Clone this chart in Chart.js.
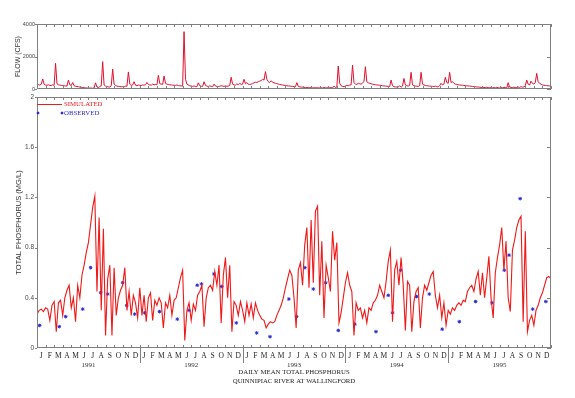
<!DOCTYPE html>
<html>
<head>
<meta charset="utf-8">
<script src="https://cdn.jsdelivr.net/npm/chart.js@4/dist/chart.umd.min.js"></script>
<style>
  html, body { margin: 0; padding: 0; background: #fff; }
  #wrap { position: relative; width: 575px; height: 398px; }
  #wrap canvas { position: absolute; left: 0; top: 0; }
</style>
</head>
<body>
<div id="wrap">
  <canvas id="flowChart" width="575" height="398"></canvas>
  <canvas id="phosChart" width="575" height="398"></canvas>
</div>
<script>
// month letters and years for the x axis
const months = ['J', 'F', 'M', 'A', 'M', 'J', 'J', 'A', 'S', 'O', 'N', 'D'];
const years = ['1991', '1992', '1993', '1994', '1995'];
const monthCount = 60;

// tick values
const flowTicks = [0, 2000, 4000];
const phosTicks = [0, 0.4, 0.8, 1.2, 1.6, 2];

// daily flow (CFS), 6 values per month
const flowPerMonth = 6;
const flow = [
  250, 270, 240, 300, 620, 280,   240, 230, 260, 220, 210, 250,
  230, 1580, 320, 260, 240, 220,  210, 200, 190, 180, 550, 260,
  220, 400, 200, 170, 150, 140,   120, 100, 90, 80, 70, 60,
  55, 50, 60, 45, 70, 380,        120, 90, 150, 200, 1680, 250,
  180, 150, 130, 120, 200, 1230,  300, 220, 180, 160, 150, 140,
  150, 130, 180, 160, 1050, 300,  220, 250, 450, 230, 200, 240,
  230, 210, 250, 240, 260, 400,   280, 250, 240, 300, 260, 280,
  260, 840, 330, 300, 280, 800,   350, 300, 280, 260, 250, 240,
  230, 220, 250, 210, 200, 190,   180, 3530, 600, 300, 250, 200,
  180, 160, 190, 150, 140, 380,   200, 170, 160, 450, 220, 180,
  150, 200, 160, 140, 300, 180,   160, 150, 170, 200, 180, 160,
  190, 170, 180, 220, 720, 300,   250, 240, 320, 260, 350, 280,
  300, 600, 320, 400, 290, 280,   300, 330, 380, 420, 400, 450,
  480, 520, 600, 550, 1070, 600,  450, 400, 500, 420, 380, 350,
  330, 300, 280, 260, 250, 230,   220, 200, 190, 180, 170, 160,
  150, 140, 390, 160, 130, 120,   110, 100, 95, 90, 85, 80,
  80, 75, 70, 80, 75, 70,         70, 80, 65, 90, 75, 70,
  80, 75, 85, 70, 180, 90,        120, 1415, 350, 200, 160, 150,
  180, 220, 200, 240, 260, 1475,  400, 300, 280, 350, 320, 300,
  380, 450, 1370, 450, 380, 350,  320, 300, 280, 260, 250, 240,
  230, 220, 200, 190, 180, 170,   160, 150, 550, 200, 140, 130,
  120, 130, 200, 110, 180, 650,   250, 200, 180, 220, 1025, 250,
  200, 180, 170, 160, 200, 1025,  300, 250, 220, 200, 190, 180,
  170, 160, 150, 180, 140, 130,   200, 350, 250, 300, 720, 400,
  350, 1025, 400, 450, 350, 300,  280, 260, 250, 240, 230, 220,
  210, 200, 190, 180, 170, 160,   150, 140, 130, 120, 110, 100,
  100, 95, 90, 110, 85, 80,       80, 75, 90, 70, 100, 75,
  70, 90, 75, 100, 80, 70,        390, 120, 100, 90, 110, 90,
  100, 120, 90, 150, 110, 130,    200, 550, 300, 250, 480, 350,
  300, 400, 960, 450, 350, 300,   250, 230, 220, 210, 200, 190,
  190
];

// simulated total phosphorus (mg/L), 4 values per month
const phosPerMonth = 4;
const simulated = [
  0.27, 0.30, 0.31, 0.29,  0.32, 0.31, 0.22, 0.34,  0.37, 0.13, 0.36, 0.38,
  0.26, 0.40, 0.46, 0.50,  0.32, 0.40, 0.21, 0.50,  0.40, 0.58, 0.66, 0.76,
  0.84, 0.98, 1.12, 1.21,  0.45, 1.04, 0.30, 0.95,  0.10, 0.55, 0.66, 0.10,
  0.64, 0.26, 0.40, 0.46,  0.50, 0.64, 0.30, 0.45,  0.26, 0.42, 0.36, 0.24,
  0.48, 0.26, 0.42, 0.21,  0.40, 0.44, 0.22, 0.38,  0.34, 0.40, 0.36, 0.16,
  0.36, 0.32, 0.42, 0.26,  0.38, 0.40, 0.48, 0.56,  0.62, 0.06, 0.30, 0.36,
  0.22, 0.35, 0.30, 0.42,  0.45, 0.50, 0.17, 0.40,  0.48, 0.50, 0.46, 0.61,
  0.50, 0.66, 0.20, 0.58,  0.72, 0.40, 0.66, 0.13,  0.37, 0.34, 0.26, 0.37,
  0.30, 0.21, 0.36, 0.26,  0.35, 0.24, 0.36, 0.30,  0.26, 0.23, 0.22, 0.16,
  0.19, 0.21, 0.20, 0.21,  0.26, 0.30, 0.34, 0.40,  0.48, 0.55, 0.62, 0.58,
  0.40, 0.16, 0.62, 0.68,  0.50, 0.82, 0.96, 0.48,  1.02, 0.52, 1.09, 1.13,
  0.42, 0.85, 0.24, 0.66,  0.56, 0.45, 0.93, 0.70,  0.84, 0.20, 0.28, 0.40,
  0.52, 0.60, 0.50, 0.45,  0.10, 0.36, 0.30, 0.32,  0.24, 0.30, 0.20, 0.32,
  0.30, 0.36, 0.38, 0.42,  0.50, 0.45, 0.40, 0.53,  0.69, 0.78, 0.21, 0.62,
  0.69, 0.50, 0.72, 0.50,  0.14, 0.53, 0.50, 0.13,  0.37, 0.45, 0.48, 0.16,
  0.40, 0.50, 0.46, 0.52,  0.58, 0.61, 0.42, 0.32,  0.42, 0.24, 0.36, 0.18,
  0.30, 0.27, 0.32, 0.30,  0.34, 0.36, 0.34, 0.38,  0.37, 0.45, 0.48, 0.50,
  0.45, 0.55, 0.61, 0.42,  0.60, 0.40, 0.56, 0.73,  0.40, 0.24, 0.60, 0.72,
  0.82, 0.96, 0.62, 0.85,  0.40, 0.29, 0.78, 0.86,  0.96, 1.02, 1.05, 0.21,
  0.93, 0.13, 0.22, 0.26,  0.18, 0.30, 0.34, 0.40,  0.44, 0.50, 0.56, 0.57,
  0.55
];

// observed samples: time in months since Jan 1991, value mg/L
const obsMonth = [0.31, 2.6, 3.35, 5.33, 6.26, 7.43, 8.25, 10.0, 10.47, 11.4, 12.57, 14.3,
  16.38, 17.74, 18.7, 19.2, 20.66, 21.56, 23.27, 25.64, 27.2, 29.4, 30.3, 31.28,
  32.26, 33.7, 35.17, 37.1, 39.57, 41.0, 41.5, 42.45, 44.3, 45.8, 47.3, 49.3,
  51.2, 53.1, 54.55, 55.1, 56.4, 57.86, 59.4];
const obsValue = [0.18, 0.17, 0.25, 0.31, 0.64, 0.44, 0.43, 0.52, 0.34, 0.27, 0.28, 0.29,
  0.23, 0.30, 0.50, 0.51, 0.59, 0.49, 0.20, 0.12, 0.09, 0.39, 0.25, 0.64,
  0.47, 0.52, 0.14, 0.19, 0.13, 0.42, 0.28, 0.62, 0.41, 0.43, 0.15, 0.21,
  0.37, 0.36, 0.62, 0.74, 1.19, 0.31, 0.37];

const serif = "'Liberation Serif', 'DejaVu Serif', serif";
const sans = "'Liberation Sans', Arial, sans-serif";
const frameColor = '#808080';
const simColor = '#f01818';
const obsColor = '#2a2ad0';

// frame with inward month ticks, like the original plot
const framePlugin = {
  id: 'frame',
  afterDraw(chart, args, opts) {
    const { ctx, chartArea: a, scales } = chart;
    ctx.save();
    ctx.strokeStyle = frameColor;
    ctx.lineWidth = 1;
    ctx.strokeRect(a.left + 0.5, a.top + 0.5, a.right - a.left - 1, a.bottom - a.top - 1);
    ctx.beginPath();
    for (let m = 0; m <= monthCount; m++) {
      const px = Math.round(scales.x.getPixelForValue(m)) + 0.5;
      ctx.moveTo(px, a.top); ctx.lineTo(px, a.top + 3);
      ctx.moveTo(px, a.bottom); ctx.lineTo(px, a.bottom - 3);
    }
    opts.yTicks.forEach(v => {
      const py = Math.round(scales.y.getPixelForValue(v)) + 0.5;
      ctx.moveTo(a.left - 2, py); ctx.lineTo(a.left, py);
      ctx.moveTo(a.right, py); ctx.lineTo(a.right - 4, py);
    });
    if (opts.years) {
      for (let k = 1; k < years.length; k++) {
        const px = Math.round(scales.x.getPixelForValue(k * 12)) + 0.5;
        ctx.moveTo(px, a.bottom); ctx.lineTo(px, a.bottom + 15);
      }
    }
    ctx.stroke();

    if (opts.years) {
      ctx.fillStyle = '#333';
      ctx.font = '7px ' + serif;
      ctx.textAlign = 'center';
      ctx.textBaseline = 'middle';
      years.forEach((yr, k) => {
        ctx.fillText(yr, scales.x.getPixelForValue(k * 12 + 6), a.bottom + 17);
      });
      const cx = (a.left + a.right) / 2;
      ctx.fillStyle = '#222';
      ctx.font = '6.8px ' + serif;
      ctx.fillText('DAILY MEAN TOTAL PHOSPHORUS', cx, a.bottom + 24);
      ctx.fillText('QUINNIPIAC RIVER AT WALLINGFORD', cx, a.bottom + 33);

      // legend
      const ly = a.top + 7;
      ctx.strokeStyle = simColor;
      ctx.beginPath();
      ctx.moveTo(a.left, ly + 0.5); ctx.lineTo(a.left + 25, ly + 0.5);
      ctx.stroke();
      ctx.textAlign = 'left';
      ctx.fillStyle = simColor;
      ctx.fillText('SIMULATED', a.left + 27, ly);
      ctx.fillStyle = obsColor;
      ctx.fillText('OBSERVED', a.left + 27, ly + 9);
      ctx.strokeStyle = obsColor;
      [a.left + 1, a.left + 25].forEach(sx => {
        ctx.beginPath();
        ctx.moveTo(sx - 1.5, ly + 9); ctx.lineTo(sx + 1.5, ly + 9);
        ctx.moveTo(sx, ly + 7.5); ctx.lineTo(sx, ly + 10.5);
        ctx.moveTo(sx - 1, ly + 8); ctx.lineTo(sx + 1, ly + 10);
        ctx.moveTo(sx + 1, ly + 8); ctx.lineTo(sx - 1, ly + 10);
        ctx.stroke();
      });
    }
    ctx.restore();
  }
};

const fmt = v => String(Number(v.toFixed(1)));

// Flow panel
new Chart(document.getElementById('flowChart'), {
  type: 'line',
  data: {
    datasets: [{
      data: flow.map((v, i) => ({ x: i / flowPerMonth, y: v })),
      borderColor: '#e0102e',
      borderWidth: 1,
      pointRadius: 0,
      tension: 0
    }]
  },
  options: {
    responsive: false,
    animation: false,
    layout: { padding: { top: 24, right: 24, bottom: 309, left: 0 } },
    plugins: {
      legend: { display: false },
      tooltip: { enabled: false },
      frame: { yTicks: flowTicks, years: false }
    },
    scales: {
      x: { type: 'linear', min: 0, max: monthCount, display: false },
      y: {
        min: 0, max: 4000,
        afterFit: s => { s.width = 37; },
        afterBuildTicks: s => { s.ticks = flowTicks.map(v => ({ value: v })); },
        grid: { display: false, drawTicks: false },
        border: { display: false },
        ticks: {
          autoSkip: false, color: '#444', font: { family: sans, size: 5.5 },
          padding: 2, callback: v => String(v)
        },
        title: {
          display: true, text: 'FLOW (CFS)', color: '#333',
          font: { family: sans, size: 7 }, padding: { top: 13.5, bottom: 0 }
        }
      }
    }
  },
  plugins: [framePlugin]
});

// Phosphorus panel
new Chart(document.getElementById('phosChart'), {
  type: 'line',
  data: {
    datasets: [{
      label: 'SIMULATED',
      data: simulated.map((v, i) => ({ x: i / phosPerMonth, y: v })),
      borderColor: simColor,
      borderWidth: 1.1,
      pointRadius: 0,
      tension: 0
    }, {
      label: 'OBSERVED',
      data: obsMonth.map((m, i) => ({ x: m, y: obsValue[i] })),
      showLine: false,
      pointStyle: 'star',
      pointRadius: 1.8,
      borderWidth: 1,
      borderColor: obsColor,
      backgroundColor: obsColor
    }]
  },
  options: {
    responsive: false,
    animation: false,
    layout: { padding: { top: 97, right: 24, bottom: 0, left: 0 } },
    plugins: {
      legend: { display: false },
      tooltip: { enabled: false },
      frame: { yTicks: phosTicks, years: true }
    },
    scales: {
      x: {
        type: 'linear', min: 0, max: monthCount,
        afterFit: s => { s.height = 50; },
        afterBuildTicks: s => {
          s.ticks = months.concat(months, months, months, months)
            .map((m, i) => ({ value: i + 0.5 }));
        },
        grid: { display: false, drawTicks: false },
        border: { display: false },
        ticks: {
          autoSkip: false, maxRotation: 0, padding: 4, color: '#222',
          font: { family: serif, size: 7.5 },
          callback: v => months[Math.floor(v) % 12]
        }
      },
      y: {
        min: 0, max: 2,
        afterFit: s => { s.width = 37; },
        afterBuildTicks: s => { s.ticks = phosTicks.map(v => ({ value: v })); },
        grid: { display: false, drawTicks: false },
        border: { display: false },
        ticks: { autoSkip: false, color: '#444', font: { family: sans, size: 6.5 }, padding: 3, callback: fmt },
        title: {
          display: true, text: 'TOTAL PHOSPHORUS (MG/L)', color: '#333',
          font: { family: sans, size: 7.5 }, padding: { top: 14, bottom: 0 }
        }
      }
    }
  },
  plugins: [framePlugin]
});
</script>
</body>
</html>
